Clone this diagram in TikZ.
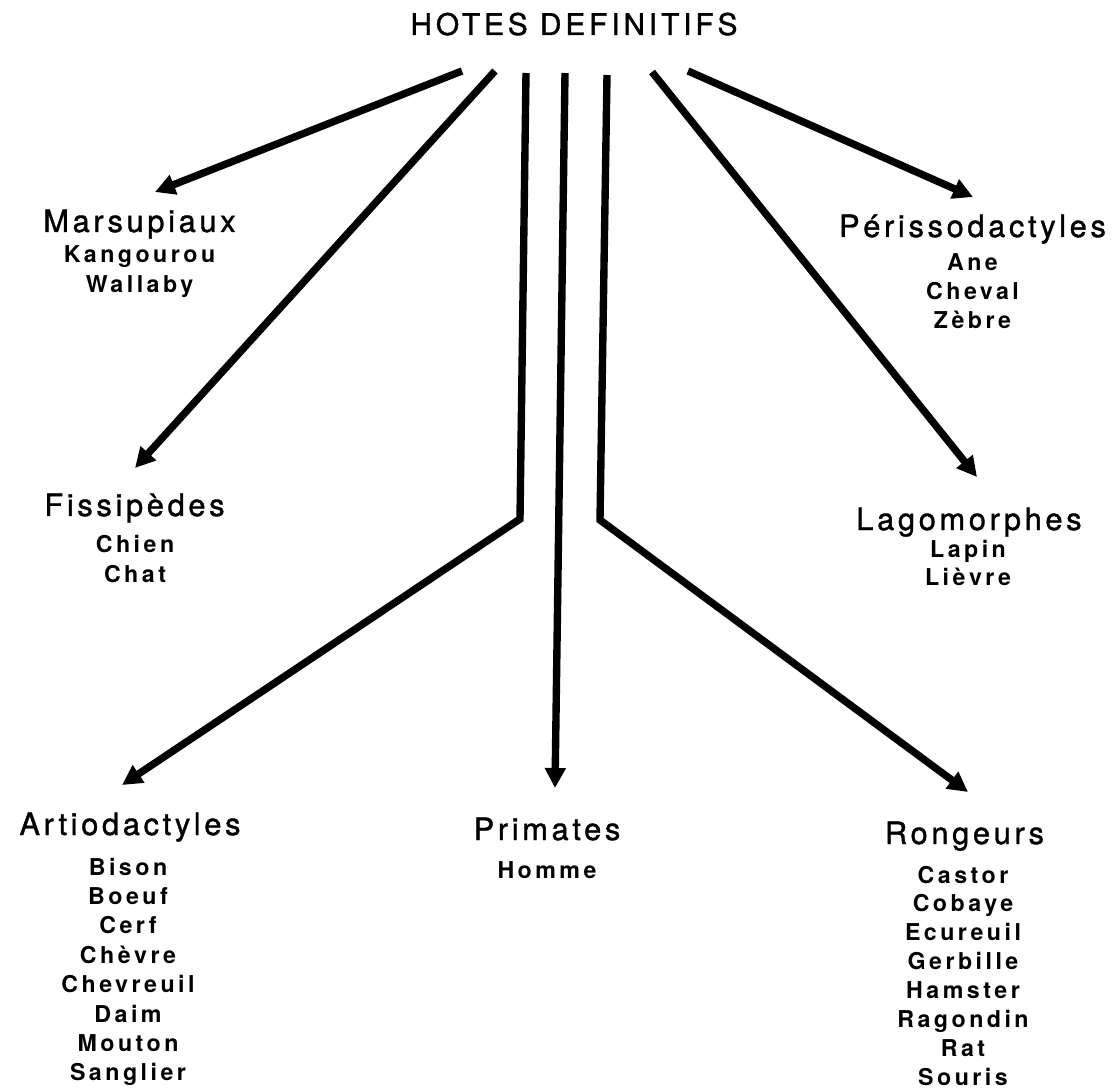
\documentclass[tikz,border=0pt]{standalone}
\usepackage{fontspec}
\setmainfont{TeX Gyre Heros}
\newfontfamily\headfont[LetterSpace=13, FakeBold=1.2]{TeX Gyre Heros}
\newfontfamily\grpfont[LetterSpace=12, FakeBold=1.2]{TeX Gyre Heros}
\newfontfamily\itemfont[LetterSpace=15]{TeX Gyre Heros}
\usetikzlibrary{arrows.meta, calc}

\begin{document}
\begin{tikzpicture}[
    x=0.02cm, y=-0.02cm,
    head/.style={font=\headfont\fontsize{17}{20}\selectfont, inner sep=0pt, anchor=base},
    grp/.style={font=\grpfont\fontsize{17.5}{20}\selectfont, inner sep=0pt, anchor=base},
    item/.style={font=\itemfont\bfseries\fontsize{13.2}{16}\selectfont, inner sep=0pt, anchor=base},
    arr/.style={-{Triangle[length=0.4cm, width=0.4cm]}, line width=4.2pt}
]
    \useasboundingbox (0,0) rectangle (1120,1091);

    \node (hotes) [head] at (574,35) {HOTES DEFINITIFS};

    % groups
    \node (marsup) [grp] at (139.5,232) {Marsupiaux};
    \node (fissi)  [grp] at (134.5,516) {Fissipèdes};
    \node (artio)  [grp] at (130,835) {Artiodactyles};
    \node (prim)   [grp] at (547,840) {Primates};
    \node (rong)   [grp] at (964.5,844) {Rongeurs};
    \node (lago)   [grp] at (969,530) {Lagomorphes};
    \node (periss) [grp] at (972.5,237) {Périssodactyles};

    % hosts
    \foreach \w [count=\i] in {Kangourou,Wallaby}
        \node (marsup-\i) [item] at (139.5,263+30*\i-30) {\w};
    \foreach \w [count=\i] in {Chien,Chat}
        \node (fissi-\i) [item] at (135,552+30*\i-30) {\w};
    \foreach \w [count=\i] in {Bison,Boeuf,Cerf,Chèvre,Chevreuil,Daim,Mouton,Sanglier}
        \node (artio-\i) [item] at (128,875+29.4*\i-29.4) {\w};
    \node (prim-1) [item] at (547,878) {Homme};
    \foreach \w [count=\i] in {Castor,Cobaye,Ecureuil,Gerbille,Hamster,Ragondin,Rat,Souris}
        \node (rong-\i) [item] at (963,883+28.9*\i-28.9) {\w};
    \foreach \w [count=\i] in {Lapin,Lièvre}
        \node (lago-\i) [item] at (968,557+28*\i-28) {\w};
    \foreach \w [count=\i] in {Ane,Cheval,Zèbre}
        \node (periss-\i) [item] at (972.5,271+29*\i-29) {\w};

    % free ends below the title
    \coordinate (m0) at (462,71);
    \coordinate (f0) at (495,71);
    \coordinate (a0) at (526,73);
    \coordinate (a1) at (520,519);
    \coordinate (p0) at (565,73);
    \coordinate (r0) at (607,75);
    \coordinate (r1) at (600,520);
    \coordinate (l0) at (652,72);
    \coordinate (s0) at (688,71);

    \draw[arr] (m0) -- ($(marsup.base)+(15.5,-40)$);
    \draw[arr] (f0) -- ($(fissi.base)+(0.5,-48)$);
    \draw[arr] (a0) -- (a1) -- ($(artio.base)+(-8,-50)$);
    \draw[arr] (p0) -- ($(prim.base)+(8,-52)$);
    \draw[arr] (r0) -- (r1) -- ($(rong.base)+(3.5,-52)$);
    \draw[arr] (l0) -- ($(lago.base)+(8,-53)$);
    \draw[arr] (s0) -- ($(periss.base)+(0.5,-40)$);
\end{tikzpicture}
\end{document}
